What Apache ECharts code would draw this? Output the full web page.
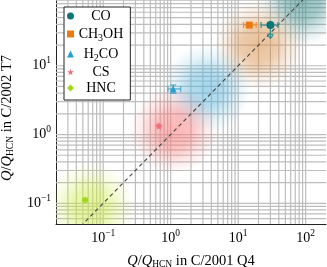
<!DOCTYPE html>
<html><head><meta charset="utf-8">
<script src="https://cdn.jsdelivr.net/npm/echarts@6/dist/echarts.min.js"></script>
<style>html,body{margin:0;padding:0;background:#fff}#c{width:327px;height:267px}</style>
</head><body><div id="c"></div>
<script>
// ---- data ----
const species = ['CO', 'CH3OH', 'H2CO', 'CS', 'HNC'];
const xVal = [30, 14.6, 1.09, 0.67, 0.054];
const yVal = [39, 39, 4.6, 1.33, 0.112];
const xLo = [21.8, 12.0, 0.91, 0.64, 0.050];
const xHi = [38.9, 18.5, 1.41, 0.70, 0.058];
const yLo = [null, 37.5, 3.97, 1.28, 0.107];
const yHi = [null, 40.5, 5.25, 1.38, 0.117];
const yArrowTo = [25, null, null, null, null];   // CO: downward arrow
const blobX = [90, 20, 3.4, 1.1, 0.065];
const blobY = [85, 20, 4.6, 1.15, 0.09];
const diagonal = [[0.02, 0.02], [200, 200]];

// ---- styles ----
const colors = ['#0a7676', '#ec7a12', '#2b9fcc', '#f46c78', '#a2d81c'];
const barColors = ['#2f8f8f', '#f09040', '#4aa8d0', '#f58a92', '#b4e040'];
const blobRGB = ['60,140,140', '214,140,70', '90,180,220', '250,120,120', '205,235,70'];
const starPath = 'path://M50,0 L61,35 L98,35 L68,57 L79,91 L50,70 L21,91 L32,57 L2,35 L39,35 Z';
const symbols = ['circle', 'rect', 'triangle', starPath, 'diamond'];
const symSizes = [8, 7, 7, 8, 7];
const serif = 'Liberation Serif';

const richTxt = {
  n: {fontFamily: serif, fontSize: 14, fontStyle: 'normal', lineHeight: 17, align: 'center', color: '#000'},
  s: {fontFamily: serif, fontSize: 10, fontStyle: 'normal', lineHeight: 17, padding: [8, 0, 0, 0], align: 'center', color: '#000'}
};
const legendText = {
  'CO': '{n|CO}', 'CH3OH': '{n|CH}{s|3}{n|OH}', 'H2CO': '{n|H}{s|2}{n|CO}', 'CS': '{n|CS}', 'HNC': '{n|HNC}'
};
const labRich = {
  b: {fontFamily: serif, fontSize: 14, lineHeight: 19, color: '#000'},
  p: {fontFamily: serif, fontSize: 9.5, lineHeight: 19, padding: [0, 0, 10, 0], color: '#000'}
};
function powLabel(v) {
  const l = Math.log10(v), r = Math.round(l);
  if (Math.abs(l - r) > 1e-6) return '';
  return '{b|10}{p|' + (r < 0 ? '\u2212' + (-r) : r) + '}';
}
const nameRich = {
  i: {fontFamily: serif, fontSize: 14.5, fontStyle: 'italic', color: '#000'},
  n: {fontFamily: serif, fontSize: 14.5, fontStyle: 'normal', color: '#000'},
  s: {fontFamily: serif, fontSize: 9.5, fontStyle: 'normal', padding: [7, 0, 0, 0], color: '#000'}
};

// grid line values (1..9 × 10^d)
const xGrid = [], yGrid = [];
for (let d = -2; d <= 2; d++) for (let m = 1; m <= 9; m++) {
  const v = m * Math.pow(10, d);
  if (v > 0.0201 && v < 199) xGrid.push([v, 1]);
  if (v > 0.0501 && v < 101) yGrid.push([1, v]);
}

const chart = echarts.init(document.getElementById('c'), null, {renderer: 'canvas'});
const gridStyle = {stroke: '#bdbdbd', lineWidth: 1.2};

const series = [];
series.push({
  type: 'custom', z: 1, silent: true, data: xGrid, clip: true,
  renderItem: (p, api) => {
    const cs = p.coordSys; const x = api.coord([api.value(0), 1])[0];
    return {type: 'line', shape: {x1: x, y1: cs.y, x2: x, y2: cs.y + cs.height}, style: gridStyle};
  }
});
series.push({
  type: 'custom', z: 1, silent: true, data: yGrid, clip: true,
  renderItem: (p, api) => {
    const cs = p.coordSys; const y = api.coord([1, api.value(1)])[1];
    return {type: 'line', shape: {x1: cs.x, y1: y, x2: cs.x + cs.width, y2: y}, style: gridStyle};
  }
});
series.push({
  type: 'custom', z: 2, silent: true, clip: true,
  data: blobX.map((x, i) => [x, blobY[i], i]),
  renderItem: (p, api) => {
    const c = api.coord([api.value(0), api.value(1)]); const i = api.value(2); const r = 44;
    const rgb = blobRGB[i];
    return {type: 'circle', shape: {cx: c[0], cy: c[1], r: r},
      style: {fill: new echarts.graphic.RadialGradient(0.5, 0.5, 0.5, [
        {offset: 0, color: 'rgba(' + rgb + ',0.55)'},
        {offset: 0.4, color: 'rgba(' + rgb + ',0.45)'},
        {offset: 0.72, color: 'rgba(' + rgb + ',0.16)'},
        {offset: 1, color: 'rgba(' + rgb + ',0)'}])}};
  }
});
series.push({
  type: 'line', z: 3, data: diagonal, showSymbol: false, silent: true,
  lineStyle: {color: '#444', width: 1.1, type: [4, 3]}
});
series.push({
  type: 'custom', z: 4, silent: true,
  data: species.map((s, i) => [xVal[i], yVal[i], i]),
  renderItem: (p, api) => {
    const i = api.value(2); const col = barColors[i]; const ch = [];
    const c = api.coord([xVal[i], yVal[i]]);
    const l = api.coord([xLo[i], yVal[i]]), h = api.coord([xHi[i], yVal[i]]);
    const st = {stroke: col, lineWidth: 1.2};
    ch.push({type: 'line', shape: {x1: l[0], y1: c[1], x2: h[0], y2: c[1]}, style: st});
    ch.push({type: 'line', shape: {x1: l[0], y1: c[1] - 3, x2: l[0], y2: c[1] + 3}, style: st});
    ch.push({type: 'line', shape: {x1: h[0], y1: c[1] - 3, x2: h[0], y2: c[1] + 3}, style: st});
    if (yLo[i] != null) {
      const a = api.coord([xVal[i], yLo[i]]), b = api.coord([xVal[i], yHi[i]]);
      ch.push({type: 'line', shape: {x1: c[0], y1: a[1], x2: c[0], y2: b[1]}, style: st});
      ch.push({type: 'line', shape: {x1: c[0] - 3, y1: a[1], x2: c[0] + 3, y2: a[1]}, style: st});
      ch.push({type: 'line', shape: {x1: c[0] - 3, y1: b[1], x2: c[0] + 3, y2: b[1]}, style: st});
    }
    if (yArrowTo[i] != null) {
      const a = api.coord([xVal[i], yArrowTo[i]]);
      ch.push({type: 'line', shape: {x1: c[0], y1: c[1], x2: c[0], y2: a[1]}, style: st});
      ch.push({type: 'line', shape: {x1: c[0] - 3, y1: a[1] - 4, x2: c[0] + 3, y2: a[1] - 4}, style: st});
      ch.push({type: 'polyline', shape: {points: [[c[0] - 2.5, a[1] - 3], [c[0], a[1]], [c[0] + 2.5, a[1] - 3]]}, style: {stroke: col, lineWidth: 1.2, fill: null}});
    }
    return {type: 'group', children: ch};
  }
});
species.forEach((s, i) => {
  series.push({
    type: 'scatter', name: s, z: 5, data: [[xVal[i], yVal[i]]],
    symbol: symbols[i], symbolSize: symSizes[i],
    itemStyle: {color: colors[i], opacity: 1}
  });
});

chart.setOption({
  animation: false,
  backgroundColor: '#fff',
  grid: {left: 56, right: 1, top: -3, bottom: 43, containLabel: false, outerBoundsMode: 'none'},
  xAxis: {
    type: 'log', logBase: 10, min: 0.02, max: 200,
    axisLine: {show: true, onZero: false, lineStyle: {color: '#222', width: 1}},
    axisTick: {show: false}, splitLine: {show: false},
    axisLabel: {margin: 5, formatter: powLabel, rich: labRich, showMinLabel: false, showMaxLabel: false},
    name: '{i|Q}{n|/}{i|Q}{s|HCN}{n| in C/2001 Q4}', nameLocation: 'middle', nameGap: 22,
    nameTextStyle: {rich: nameRich}
  },
  yAxis: {
    type: 'log', logBase: 10, min: 0.05, max: 100,
    axisLine: {show: true, onZero: false, lineStyle: {color: '#222', width: 1}},
    axisTick: {show: false}, splitLine: {show: false},
    axisLabel: {margin: 5, formatter: powLabel, rich: labRich, showMinLabel: false, showMaxLabel: false},
    name: '{i|Q}{n|/}{i|Q}{s|HCN}{n| in C/2002 T7}', nameLocation: 'middle', nameGap: 38,
    nameTextStyle: {rich: nameRich, padding: [0, 15, 0, 0]}
  },
  legend: {
    data: species, orient: 'vertical', left: 64, top: 7,
    itemWidth: 7, itemHeight: 7, itemGap: 2, padding: [2, 7, 5, 3],
    backgroundColor: '#fff', borderColor: '#222', borderWidth: 1, borderRadius: 0,
    selectedMode: false,
    formatter: n => legendText[n],
    textStyle: {width: 44, rich: richTxt}
  },
  series: series
});
</script></body></html>
